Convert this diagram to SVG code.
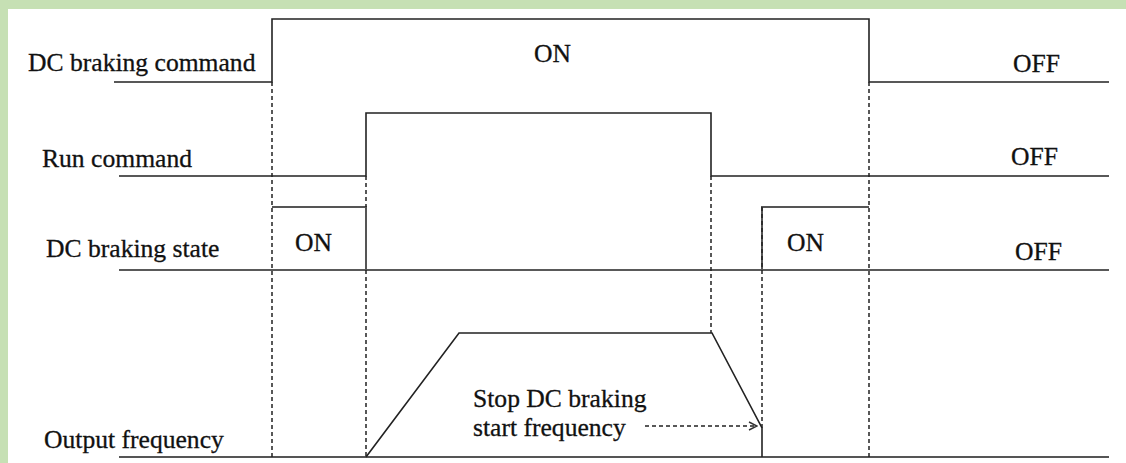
<svg xmlns="http://www.w3.org/2000/svg" width="1126" height="463" viewBox="0 0 1126 463">
<defs>
<style>
.t{font-family:"Liberation Serif","Times New Roman",serif;font-size:25.6px;fill:#111;stroke:#111;stroke-width:0.3}
.s{fill:none;stroke:#222;stroke-width:1.6}
.g{fill:none;stroke:#555;stroke-width:2}
.d{fill:none;stroke:#222;stroke-width:1.5;stroke-dasharray:4,3}
</style>
<marker id="ah" viewBox="0 0 10 10" refX="9" refY="5" markerWidth="10" markerHeight="10" markerUnits="userSpaceOnUse" orient="auto">
<path d="M1,1 L9,5 L1,9" fill="none" stroke="#333" stroke-width="1.4"/>
</marker>
</defs>
<rect x="0" y="0" width="1126" height="463" fill="#fff"/>
<rect x="0" y="0" width="1126" height="9" fill="#c6e0b4"/>
<rect x="0" y="0" width="8" height="463" fill="#c6e0b4"/>
<g id="dc-command">
<path class="s" d="M114,82 H272 V19 H869 V82 H1109"/>
<text class="t" x="28" y="71">DC braking command</text>
<text class="t" x="534" y="62">ON</text>
<text class="t" x="1013" y="72">OFF</text>
</g>
<g id="run-command">
<path class="s" d="M119,176 H366 V113 H711 V176 H1109"/>
<text class="t" x="42" y="167">Run command</text>
<text class="t" x="1011" y="165">OFF</text>
</g>
<g id="dc-state">
<path class="s" d="M119,270 H1109"/>
<path class="g" d="M272,207 H366 V270"/>
<path class="g" d="M762,270 V207 H869"/>
<text class="t" x="46" y="257">DC braking state</text>
<text class="t" x="295" y="251">ON</text>
<text class="t" x="787" y="251">ON</text>
<text class="t" x="1015" y="260">OFF</text>
</g>
<g id="output-frequency">
<path class="g" d="M119,457 H1109"/>
<path class="s" d="M366,457 L459,333 H712 L762,428 V457"/>
<text class="t" x="44" y="448">Output frequency</text>
<text class="t" x="473" y="407">Stop DC braking</text>
<text class="t" x="473" y="436">start frequency</text>
</g>
<g id="connectors">
<line class="d" x1="272" y1="82" x2="272" y2="457"/>
<line class="d" x1="366" y1="176" x2="366" y2="207"/>
<line class="d" x1="366" y1="270" x2="366" y2="457"/>
<line class="d" x1="711" y1="176" x2="711" y2="333"/>
<line class="d" x1="762" y1="207" x2="762" y2="428"/>
<line class="d" x1="869" y1="82" x2="869" y2="457"/>
<line class="d" x1="645" y1="426" x2="757" y2="426" marker-end="url(#ah)"/>
</g>
</svg>
